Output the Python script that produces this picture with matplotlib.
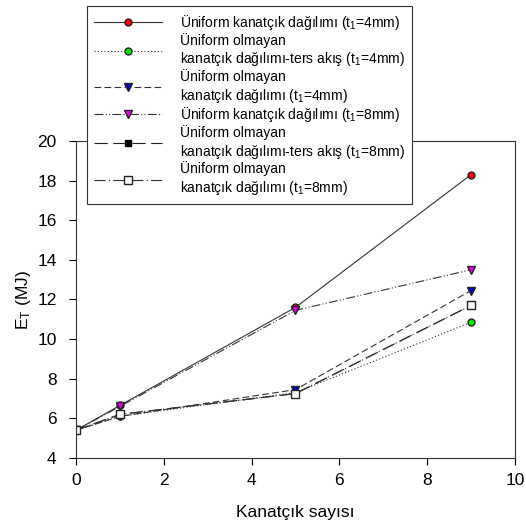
import matplotlib
matplotlib.use("Agg")
from matplotlib import pyplot as plt

plt.rcParams["font.family"] = ["Liberation Sans", "DejaVu Sans"]
plt.rcParams["mathtext.fontset"] = "custom"
plt.rcParams["mathtext.rm"] = "Liberation Sans"
plt.rcParams["mathtext.it"] = "Liberation Sans"

fin_count = [0, 1, 5, 9]
uniform_4 = [5.4, 6.65, 11.6, 18.3]
nonuni_rev_4 = [5.4, 6.1, 7.3, 10.85]
nonuni_4 = [5.4, 6.1, 7.45, 12.45]
uniform_8 = [5.4, 6.6, 11.45, 13.5]
nonuni_rev_8 = [5.4, 6.2, 7.25, 11.7]
nonuni_8 = [5.4, 6.2, 7.25, 11.7]

labels = [
    "Üniform kanatçık dağılımı (t$_1$=4mm)",
    "Üniform olmayan\nkanatçık dağılımı-ters akış (t$_1$=4mm)",
    "Üniform olmayan\nkanatçık dağılımı (t$_1$=4mm)",
    "Üniform kanatçık dağılımı (t$_1$=8mm)",
    "Üniform olmayan\nkanatçık dağılımı-ters akış (t$_1$=8mm)",
    "Üniform olmayan\nkanatçık dağılımı (t$_1$=8mm)",
]

fig = plt.figure(figsize=(5.26, 5.24), dpi=100)
ax = fig.add_axes([0.1445, 0.126, 0.8345, 0.605])

lw = 0.8
ax.plot(fin_count, uniform_4, color="#333333", lw=lw, ls="-", marker="o",
        mfc="red", mec="#222222", ms=5, label=labels[0])
ax.plot(fin_count, nonuni_rev_4, color="#333333", lw=lw, ls=(0, (1, 2)), marker="o",
        mfc="#00ee00", mec="#222222", ms=5, label=labels[1])
ax.plot(fin_count, nonuni_4, color="#333333", lw=lw, ls=(0, (6, 3)), marker="v",
        mfc="#0000cc", mec="#222222", ms=6, label=labels[2])
ax.plot(fin_count, uniform_8, color="#333333", lw=lw, ls=(0, (8, 2, 1, 2, 1, 2)), marker="v",
        mfc="#ee00ee", mec="#222222", ms=6, label=labels[3])
ax.plot(fin_count, nonuni_rev_8, color="#222222", lw=lw, ls=(0, (12, 5)), marker="s",
        mfc="black", mec="black", ms=5, label=labels[4])
ax.plot(fin_count, nonuni_8, color="#333333", lw=lw, ls=(0, (10, 3, 1, 3)), marker="s",
        mfc="white", mec="#222222", ms=5.5, label=labels[5])

ax.set_xlim(0, 10)
ax.set_ylim(4, 20)
ax.set_xticks([0, 2, 4, 6, 8, 10])
ax.set_yticks([4, 6, 8, 10, 12, 14, 16, 18, 20])
ax.tick_params(direction="out", labelsize=12.5, length=5, width=0.8)
ax.tick_params(axis="y", pad=9)
ax.tick_params(axis="x", pad=6)
for s in ax.spines.values():
    s.set_linewidth(0.8)
    s.set_color("#333333")

ax.set_xlabel("Kanatçık sayısı", fontsize=12.5, labelpad=12)
ax.set_ylabel("E$_T$ (MJ)", fontsize=12.5, labelpad=3)

leg = fig.legend(loc="upper left", bbox_to_anchor=(0.165, 0.9885), fontsize=10,
                 handlelength=4.9, frameon=True, fancybox=False, framealpha=1,
                 edgecolor="#333333", labelspacing=0.05, borderpad=0.5,
                 borderaxespad=0, handletextpad=1.3)
leg.get_frame().set_linewidth(0.8)
leg.set_zorder(10)

plt.savefig("out.png", dpi=100)
plt.close()
